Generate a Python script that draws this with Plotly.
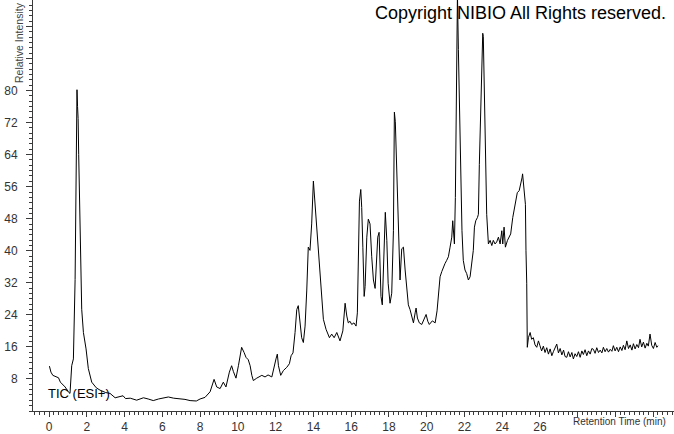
import plotly.graph_objects as go

# Retention time (min) and relative intensity
rt_min = [
    0.02, 0.1, 0.2, 0.35, 0.5, 0.6, 0.85, 1.05, 1.11, 1.2, 1.29, 1.38, 1.43, 1.48, 1.51, 1.54, 1.57, 1.6,
    1.68, 1.73, 1.82, 1.96, 2.08, 2.26, 2.5, 2.7, 3.0, 3.23, 3.5, 3.7, 3.92, 4.05, 4.3, 4.64, 4.8, 5.0,
    5.25, 5.52, 5.8, 6.05, 6.32, 6.6, 6.94, 7.2, 7.47, 7.8, 8.0, 8.26, 8.53, 8.74, 8.88, 9.06, 9.23, 9.37,
    9.55, 9.67, 9.76, 9.9, 10.03, 10.12, 10.2, 10.33, 10.43, 10.55, 10.65, 10.74, 10.82, 11.0, 11.15, 11.27,
    11.44, 11.6, 11.8, 11.88, 12.02, 12.09, 12.15, 12.27, 12.41, 12.59, 12.73, 12.82, 12.92, 13.03, 13.12,
    13.2, 13.29, 13.38, 13.47, 13.56, 13.65, 13.73, 13.82, 13.91, 14.0, 14.05, 14.14, 14.26, 14.39, 14.53,
    14.67, 14.85, 14.97, 15.1, 15.24, 15.33, 15.41, 15.56, 15.62, 15.68, 15.77, 15.85, 15.94, 16.03, 16.15,
    16.26, 16.33, 16.4, 16.44, 16.51, 16.56, 16.62, 16.69, 16.74, 16.83, 16.91, 17.0, 17.09, 17.18, 17.27,
    17.36, 17.41, 17.48, 17.53, 17.58, 17.65, 17.71, 17.76, 17.81, 17.89, 17.96, 18.06, 18.15, 18.24, 18.29,
    18.34, 18.41, 18.5, 18.59, 18.68, 18.77, 18.86, 18.95, 19.03, 19.12, 19.21, 19.3, 19.39, 19.44, 19.51,
    19.61, 19.74, 19.86, 19.97, 20.06, 20.14, 20.3, 20.45, 20.55, 20.62, 20.71, 20.8, 20.88, 20.97, 21.06,
    21.15, 21.24, 21.33, 21.38, 21.41, 21.47, 21.52, 21.56, 21.59, 21.63, 21.68, 21.73, 21.77, 21.82, 21.87,
    21.94, 22.03, 22.12, 22.21, 22.3, 22.39, 22.47, 22.53, 22.6, 22.69, 22.74, 22.79, 22.87, 22.92, 22.97,
    23.0, 23.06, 23.13, 23.18, 23.27, 23.36, 23.45, 23.53, 23.62, 23.71, 23.8, 23.89, 23.98, 24.03, 24.1,
    24.17, 24.28, 24.38, 24.45, 24.56, 24.63, 24.74, 24.8, 24.9, 24.98, 25.05, 25.08, 25.12, 25.19, 25.23,
    25.26, 25.3, 25.33, 25.39, 25.48, 25.56, 25.65,
    25.74, 25.83, 25.92, 26.0, 26.09, 26.18, 26.27, 26.36, 26.45, 26.54, 26.63, 26.72, 26.8, 26.89, 26.98,
    27.07, 27.16, 27.25, 27.33, 27.42, 27.51, 27.6, 27.69, 27.77, 27.86, 27.95, 28.04, 28.13, 28.22, 28.3,
    28.39, 28.48, 28.57, 28.66, 28.75, 28.83, 28.92, 29.01, 29.1, 29.19, 29.28, 29.36, 29.45, 29.54, 29.63,
    29.72, 29.81, 29.89, 29.98, 30.07, 30.16, 30.25, 30.34, 30.42, 30.51, 30.6, 30.69, 30.78, 30.87, 30.95,
    31.04, 31.13, 31.22, 31.3, 31.39, 31.48, 31.57, 31.66, 31.74, 31.83, 31.92, 32.01, 32.1, 32.19, 32.25,
]
rel_intensity = [
    11.2, 9.7, 8.9, 8.5, 8.3, 7.2, 6.0, 4.6, 4.4, 11.3, 13.0, 32.8, 63.6, 80.2, 76.0, 73.0, 64.0, 55.0,
    36.0, 25.4, 19.6, 15.5, 10.6, 7.2, 5.8, 5.2, 4.6, 4.4, 3.3, 3.6, 3.8, 3.1, 3.2, 2.7, 3.0, 3.3,
    3.0, 2.6, 3.0, 3.2, 3.5, 3.2, 3.1, 2.9, 2.6, 2.5, 3.0, 3.4, 4.8, 7.9, 6.0, 5.6, 7.2, 6.0,
    9.7, 11.3, 9.9, 8.2, 11.3, 13.8, 15.9, 14.6, 13.4, 12.8, 11.3, 8.9, 7.6, 8.2, 8.6, 8.9,
    8.5, 9.0, 8.5, 10.5, 13.0, 14.2, 11.3, 8.9, 10.1, 10.9, 11.8, 13.8, 14.5, 19.6, 25.3,
    26.3, 22.0, 18.3, 17.1, 21.2, 30.2, 40.9, 40.1, 46.7, 57.4, 54.1, 46.7, 38.5, 30.2, 22.9,
    20.4, 18.3, 19.2, 18.3, 19.6, 18.3, 17.5, 20.0, 23.7, 26.9, 23.7, 22.0, 22.4, 21.6, 22.0,
    21.2, 24.5, 40.9, 52.4, 55.3, 50.8, 40.9, 28.6, 31.1, 43.4, 47.9, 46.7, 38.5, 32.7, 30.6,
    38.5, 43.4, 44.6, 36.8, 28.6, 26.5, 35.2, 46.7, 49.6, 42.6, 31.9, 26.9, 29.4, 45.0, 74.6,
    72.2, 61.5, 45.0, 32.7, 40.5, 40.9, 35.2, 29.4, 26.5, 25.3, 23.7, 22.0, 24.5, 25.7, 23.2,
    22.0, 21.6, 22.9, 24.1, 22.4, 21.6, 22.5, 22.0, 25.0, 29.4, 33.5, 34.8, 36.0, 36.8, 37.6,
    38.5, 40.9, 43.4, 47.5, 45.0, 41.7, 53.3, 69.7, 91.0, 104.0, 90.2, 77.9, 65.6, 53.3, 45.0,
    37.6, 35.2, 34.3, 32.7, 33.5, 36.8, 40.1, 45.9, 47.5, 48.3, 49.1, 61.5, 77.9, 91.9, 94.3,
    93.5, 77.9, 61.5, 49.1, 41.7, 42.6, 41.3, 42.6, 41.7, 42.2, 43.4, 41.7, 45.0, 41.7, 45.9,
    40.9, 42.6, 43.4, 44.2, 48.3, 50.0, 53.3, 54.5, 55.0, 56.5, 58.2, 59.2, 57.0, 54.1, 51.6,
    40.0, 31.9, 15.9, 18.3, 19.6, 17.9, 18.3,
    16.5, 15.9, 17.5, 16.3, 15.0, 16.2, 14.6, 15.8, 14.2, 15.5, 13.8, 14.9, 15.9, 16.7, 14.5,
    15.6, 14.0, 15.2, 13.6, 13.4, 14.8, 13.5, 14.6, 13.0, 14.3, 13.6, 14.8, 13.4, 15.0, 14.1,
    15.3, 13.8, 15.0, 14.2, 15.6, 15.4, 14.4, 15.8, 14.6, 15.2, 14.5, 15.9, 14.8, 15.6, 14.7,
    15.4, 14.9, 16.3, 15.0, 15.9, 14.8, 16.0, 15.1, 16.4, 15.3, 17.5, 15.6, 16.5, 15.2, 16.8,
    15.5, 16.6, 15.8, 17.9, 16.0, 17.2, 15.7, 16.9, 16.2, 19.2, 16.4, 15.6, 17.1, 15.9, 16.3,
]

x_tick_vals = list(range(0, 34, 2))
x_tick_text = [str(v) if v <= 26 else "" for v in x_tick_vals]
y_tick_vals = list(range(8, 104, 8))
y_tick_text = [str(v) if v <= 80 else "" for v in y_tick_vals]

fig = go.Figure()
fig.add_trace(go.Scatter(
    x=rt_min, y=rel_intensity, mode="lines",
    line=dict(color="black", width=1), hoverinfo="skip",
))

axis_color = "#3a3a3a"
font_fam = "Liberation Sans, Arial, sans-serif"

fig.update_layout(
    width=674, height=434,
    margin=dict(l=33, r=0, t=0, b=18),
    plot_bgcolor="white", paper_bgcolor="white",
    showlegend=False,
    font=dict(family=font_fam, color="#333333"),
    xaxis=dict(
        range=[-0.85, 33.1], showgrid=False, zeroline=False,
        showline=True, linecolor=axis_color, linewidth=1,
        ticks="outside", ticklen=5, tickcolor=axis_color, tickwidth=1,
        tickmode="array", tickvals=x_tick_vals, ticktext=x_tick_text,
        tickfont=dict(size=12, color="#333333"),
        ticklabelstandoff=0,
        minor=dict(tickmode="linear", tick0=0, dtick=0.25, ticks="outside",
                   ticklen=3, tickcolor=axis_color, showgrid=False),
    ),
    yaxis=dict(
        range=[0, 102.6], showgrid=False, zeroline=False,
        showline=True, linecolor=axis_color, linewidth=1,
        ticks="outside", ticklen=6, tickcolor=axis_color, tickwidth=1,
        tickmode="array", tickvals=y_tick_vals, ticktext=y_tick_text,
        tickfont=dict(size=12, color="#333333"),
        ticklabelstandoff=6,
        minor=dict(tickmode="linear", tick0=0, dtick=8 / 6, ticks="outside",
                   ticklen=3, tickcolor=axis_color, showgrid=False),
    ),
)

fig.add_annotation(
    text="Copyright NIBIO All Rights reserved.",
    xref="paper", yref="paper", x=0.9906, y=1 - 13 / 416,
    xanchor="right", yanchor="middle", showarrow=False,
    font=dict(size=18, color="black", family=font_fam),
)
fig.add_annotation(
    text="TIC (ESI+)",
    xref="x", yref="y", x=-0.15, y=4.4,
    xanchor="left", yanchor="middle", showarrow=False,
    font=dict(size=13, color="black", family=font_fam),
)
fig.add_annotation(
    text="Retention Time (min)",
    xref="paper", yref="paper", x=(668 - 33) / 641, y=-11 / 416,
    xanchor="right", yanchor="middle", showarrow=False,
    font=dict(size=10, color="#333333", family=font_fam),
)
fig.add_annotation(
    text="Relative Intensity",
    xref="paper", yref="paper", x=-(33 - 18.5) / 641, y=1.0,
    xanchor="center", yanchor="top", textangle=-90, showarrow=False,
    font=dict(size=10.5, color="#444444", family=font_fam),
)

fig.write_html(
    "out.html",
    config={"displayModeBar": False, "staticPlot": True},
    post_script="document.body.style.margin='0';document.body.style.overflow='hidden';",
)
